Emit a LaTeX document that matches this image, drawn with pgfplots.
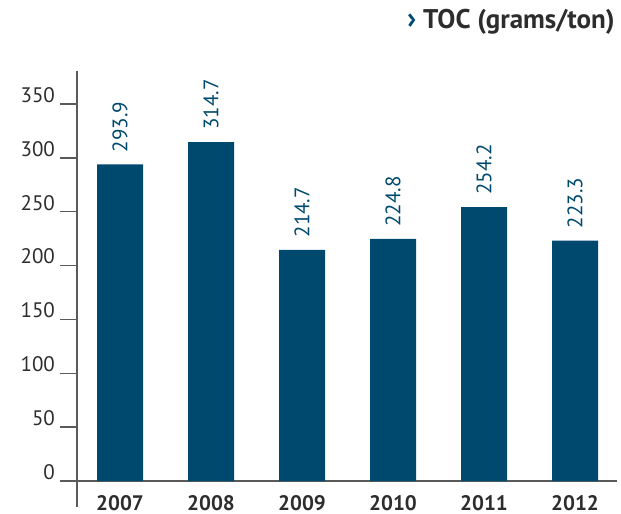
\documentclass[border=0pt]{standalone}
\usepackage{pgfplots}
\pgfplotsset{compat=1.18}
\usepackage{fontspec}
\setmainfont{PT Sans}
\definecolor{barBlue}{RGB}{0,73,110}
\definecolor{axGray}{RGB}{90,90,90}
\definecolor{txtGray}{RGB}{45,45,45}
\begin{document}
\begin{tikzpicture}
\begin{axis}[
    x=45.5pt, y=0.5385pt,
    xmin=-0.4725, xmax=5.46, ymin=0, ymax=381,
    axis x line*=bottom, axis y line*=left,
    axis line style={draw=axGray, line width=0.75pt},
    ybar, bar width=23pt,
    xtick={0,1,2,3,4,5},
    xticklabels={2007,2008,2009,2010,2011,2012},
    x tick label style={font=\fontsize{10.5}{12}\selectfont\bfseries, text=txtGray, yshift=5pt},
    x tick style={draw=none},
    ytick={0,50,100,150,200,250,300,350},
    y tick style={draw=axGray, line width=0.75pt},
    tick align=outside, major tick length=8.5pt,
    y tick label style={font=\fontsize{10.5}{12}\selectfont, text=txtGray, yshift=4.5pt, xshift=1pt},
    /pgf/number format/assume math mode=true,
    nodes near coords,
    nodes near coords style={/pgf/number format/.cd, fixed, fixed zerofill, precision=1, /tikz/.cd},
    every node near coord/.append style={rotate=90, anchor=west, inner xsep=6pt, font=\fontsize{10.5}{12}\selectfont, text=barBlue},
    clip=false]
\addplot[fill=barBlue, draw=none] coordinates {(0,293.9)(1,314.7)(2,214.7)(3,224.8)(4,254.2)(5,223.3)};
\draw[axGray, line width=0.75pt] (axis cs:-0.659,0) -- (axis cs:-0.4725,0);
\draw[axGray, line width=0.75pt] (axis cs:-0.4725,0) -- (axis cs:-0.4725,-24.1);
\node[anchor=east, inner sep=0pt, font=\fontsize{13.5}{15}\selectfont\bfseries, text=txtGray] at (axis cs:5.44,426) {{\color{barBlue}\fontsize{15}{15}\selectfont›}\ TOC (grams/ton)};
\coordinate (bbA) at (axis cs:-1.3187,446.6);
\coordinate (bbB) at (axis cs:5.505,-30.6);
\end{axis}
\pgfresetboundingbox
\path[use as bounding box] (bbA) rectangle (bbB);
\end{tikzpicture}
\end{document}
